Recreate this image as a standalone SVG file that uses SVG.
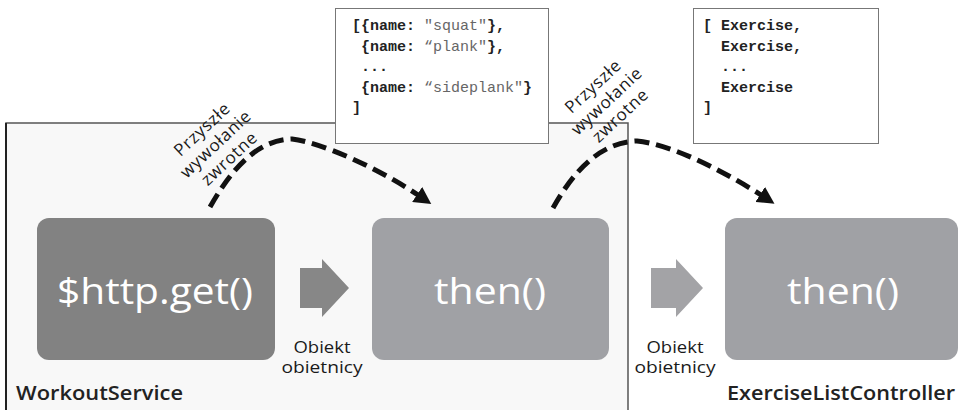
<svg xmlns="http://www.w3.org/2000/svg" width="959" height="410" viewBox="0 0 959 410">
<style>
.lbl{font-family:"Open Sans","Liberation Sans",sans-serif;font-size:16px;fill:#1a1a1a}
.rot{font-family:"Open Sans","Liberation Sans",sans-serif;font-size:17px;fill:#1a1a1a;letter-spacing:0.8px}
.big{font-family:"Open Sans","Liberation Sans",sans-serif;font-size:36px;fill:#fff}
.title{font-family:"Open Sans","Liberation Sans",sans-serif;font-size:20px;font-weight:600;fill:#222}
.code{font-family:"Liberation Mono","DejaVu Sans Mono",monospace;font-size:15px;fill:#222;font-weight:bold}
.str{font-weight:normal;fill:#666}
.jbox{fill:#fff;stroke:#777;stroke-width:1}
.dash{fill:none;stroke:#111;stroke-width:5;stroke-dasharray:15 7}
</style>
<defs>
<marker id="ah" markerUnits="userSpaceOnUse" markerWidth="17" markerHeight="18" refX="1" refY="9" orient="auto">
<path d="M0,0 L17,9 L0,18 z" fill="#111"/>
</marker>
</defs>
<rect width="959" height="410" fill="#fff"/>
<g id="workoutService">
<rect x="6" y="123" width="622" height="300" fill="#f8f8f8" stroke="#555" stroke-width="1.5"/>
<line x1="6" y1="123" x2="6" y2="410" stroke="#222" stroke-width="2"/>
<text class="title" x="16" y="400" textLength="167" lengthAdjust="spacingAndGlyphs">WorkoutService</text>
</g>
<g id="exerciseListController">
<text class="title" x="727" y="400" textLength="228" lengthAdjust="spacingAndGlyphs">ExerciseListController</text>
</g>
<g id="httpGet">
<rect x="37" y="218" width="238" height="142" rx="12" fill="#828282"/>
<text class="big" x="155" y="304" text-anchor="middle" textLength="196" lengthAdjust="spacingAndGlyphs">$http.get()</text>
</g>
<g id="then1">
<rect x="372" y="218" width="237" height="142" rx="12" fill="#a0a1a5"/>
<text class="big" x="490" y="304" text-anchor="middle" textLength="112" lengthAdjust="spacingAndGlyphs">then()</text>
</g>
<g id="then2">
<rect x="725" y="218" width="233" height="142" rx="12" fill="#a0a1a5"/>
<text class="big" x="843" y="304" text-anchor="middle" textLength="112" lengthAdjust="spacingAndGlyphs">then()</text>
</g>
<g id="json1">
<rect class="jbox" x="335.5" y="8.5" width="213" height="135"/>
<text class="code" x="352" y="30" xml:space="preserve">[{name: <tspan class="str">"squat"</tspan>},</text>
<text class="code" x="352" y="50.5" xml:space="preserve"> {name: <tspan class="str">“plank"</tspan>},</text>
<text class="code" x="352" y="71" xml:space="preserve"> ...</text>
<text class="code" x="352" y="91.5" xml:space="preserve"> {name: <tspan class="str">“sideplank"</tspan>}</text>
<text class="code" x="352" y="112" xml:space="preserve">]</text>
</g>
<g id="json2">
<rect class="jbox" x="693.5" y="8.5" width="185" height="135"/>
<text class="code" x="703" y="30" xml:space="preserve">[ Exercise,</text>
<text class="code" x="703" y="50.5" xml:space="preserve">  Exercise,</text>
<text class="code" x="703" y="71" xml:space="preserve">  ...</text>
<text class="code" x="703" y="91.5" xml:space="preserve">  Exercise</text>
<text class="code" x="703" y="112" xml:space="preserve">]</text>
</g>
<g id="callbackLabel1" transform="translate(206,133.5) rotate(-43)">
<text class="rot" x="0" y="0" text-anchor="middle">Przyszłe</text>
<text class="rot" x="0" y="20" text-anchor="middle">wywołanie</text>
<text class="rot" x="0" y="40" text-anchor="middle">zwrotne</text>
</g>
<g id="callbackLabel2" transform="translate(597,90.5) rotate(-43)">
<text class="rot" x="0" y="0" text-anchor="middle">Przyszłe</text>
<text class="rot" x="0" y="20" text-anchor="middle">wywołanie</text>
<text class="rot" x="0" y="40" text-anchor="middle">zwrotne</text>
</g>
<g id="promiseLabel1">
<text class="lbl" x="322" y="353" text-anchor="middle" textLength="57" lengthAdjust="spacingAndGlyphs">Obiekt</text>
<text class="lbl" x="322" y="373" text-anchor="middle" textLength="81" lengthAdjust="spacingAndGlyphs">obietnicy</text>
</g>
<g id="promiseLabel2">
<text class="lbl" x="675" y="353" text-anchor="middle" textLength="57" lengthAdjust="spacingAndGlyphs">Obiekt</text>
<text class="lbl" x="675" y="373" text-anchor="middle" textLength="81" lengthAdjust="spacingAndGlyphs">obietnicy</text>
</g>
<g id="connectors">
<path d="M300,268 H322 V259 L349,288 L322,317 V308 H300 z" fill="#878787"/>
<path d="M651,268 H676 V259 L703,288 L676,317 V308 H651 z" fill="#a3a3a6"/>
<path class="dash" d="M210,207 C230,172 255,140 292,139 C320,142 378,168 418,195" marker-end="url(#ah)"/>
<path class="dash" d="M553,208 C573,172 600,142 637,141 C670,144 722,170 761,195" marker-end="url(#ah)"/>
</g>
</svg>
